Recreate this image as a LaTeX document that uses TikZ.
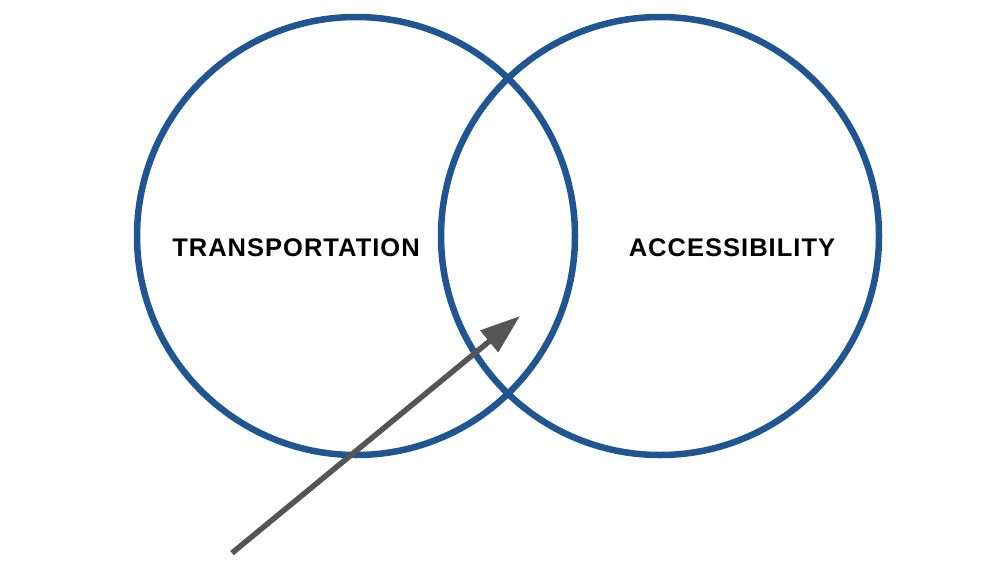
\documentclass[tikz,border=0pt]{standalone}
\usepackage{fontspec}
\setmainfont{Liberation Sans}
\newfontfamily\labelfont[LetterSpace=4]{Liberation Sans}
\usetikzlibrary{arrows.meta}
\definecolor{ringblue}{HTML}{1F5591}
\definecolor{arrowgray}{HTML}{555555}
\tikzset{
  ring/.style={draw=ringblue, line width=6.5pt},
  label/.style={font=\labelfont\fontsize{25.5}{28}\selectfont\bfseries, text=black, inner sep=0pt, anchor=center},
  pointer/.style={draw=arrowgray, line width=5.5pt, -{Triangle[length=40pt,width=27pt]}}
}
\begin{document}
\begin{tikzpicture}[x=1pt,y=-1pt]
\useasboundingbox (0,0) rectangle (990,574);
\draw[ring] (356,236) circle (219);
\draw[ring] (660,236) circle (219);
\node[label] (t) at (296,248) {TRANSPORTATION};
\node[label] (a) at (732,248) {ACCESSIBILITY};
\coordinate (s) at (232,553);
\coordinate (e) at (520,316);
\draw[pointer] (s) -- (e);
\end{tikzpicture}
\end{document}
